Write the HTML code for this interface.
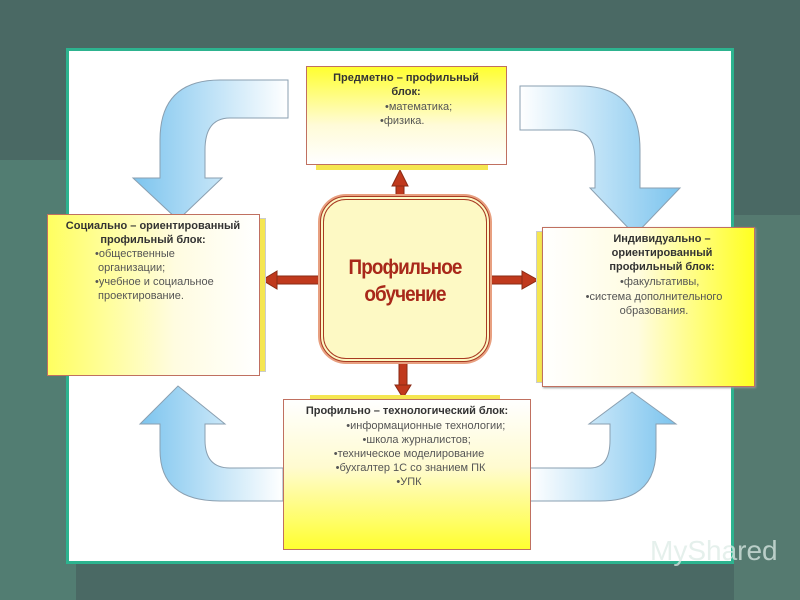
<!DOCTYPE html>
<html><head><meta charset="utf-8"><style>
body{margin:0;width:800px;height:600px;overflow:hidden;background:#4b6b66;font-family:"Liberation Sans",sans-serif;}
.abs{position:absolute;}
.t{font-size:11px;color:#555;line-height:14px;}
b{color:#333}
</style></head><body>
<div class="abs" style="left:0;top:0;width:800px;height:600px;background:#4a6964"></div>
<div class="abs" style="left:0;top:160px;width:76px;height:440px;background:#527d72"></div>
<div class="abs" style="left:734px;top:215px;width:66px;height:385px;background:#557a70"></div>
<div class="abs" style="left:66px;top:48px;width:662px;height:510px;background:#fff;border:3px solid #2db38f"></div>
<svg class="abs" style="left:0;top:0" width="800" height="600">
<defs>
<linearGradient id="bh" x1="0" x2="1" y1="0" y2="0"><stop offset="0" stop-color="#7cc4ee"/><stop offset="1" stop-color="#fff"/></linearGradient>
<linearGradient id="bhr" x1="1" x2="0" y1="0" y2="0"><stop offset="0" stop-color="#7cc4ee"/><stop offset="1" stop-color="#fff"/></linearGradient>
</defs>
<path d="M288,80 L288,118 L230,118 Q205,118 205,150 L205,178 L222,178 L178,220 L133,178 L160,178 L160,140 Q160,80 220,80 Z" fill="url(#bh)" stroke="#8a9fb0" stroke-width="1"/>
<path d="M520,86 L520,130 L570,130 Q595,130 595,160 L595,188 L590,188 L635,235 L680,188 L640,188 L640,150 Q640,86 580,86 Z" fill="url(#bhr)" stroke="#8a9fb0" stroke-width="1"/>
<path d="M283,468 L230,468 Q205,468 205,440 L205,424 L225,424 L178,386 L140,424 L160,424 L160,450 Q160,501 220,501 L283,501 Z" fill="url(#bh)" stroke="#8a9fb0" stroke-width="1"/>
<path d="M530,468 L590,468 Q610,468 610,440 L610,424 L589,424 L632,392 L676,424 L656,424 L656,450 Q656,501 600,501 L530,501 Z" fill="url(#bhr)" stroke="#8a9fb0" stroke-width="1"/>
<g fill="#c0391d" stroke="#8a2a14" stroke-width="1">
<rect x="396" y="185" width="8" height="22"/><path d="M392,186 L400,170 L408,186 Z"/>
<rect x="399" y="360" width="8" height="26"/><path d="M395,385 L403,398 L411,385 Z"/>
<rect x="275" y="276" width="46" height="8"/><path d="M277,271 L262,280 L277,289 Z"/>
<rect x="489" y="276" width="35" height="8"/><path d="M522,271 L538,280 L522,289 Z"/>
</g>
</svg>
<div class="abs" style="left:320px;top:196px;width:162px;height:158px;border:4px double #a83a22;border-radius:26px;background:#fdf9c4;box-shadow:0 0 0 2px #e8a080"></div>
<div class="abs" style="left:320px;top:254px;width:170px;text-align:center;font-size:21px;font-weight:bold;color:#a8281a;line-height:27px;letter-spacing:-1px;transform:scaleX(0.9)">Профильное<br>обучение</div>
<div class="abs" style="left:316px;top:160px;width:172px;height:10px;background:#f5e650"></div>
<div class="abs" style="left:306px;top:66px;width:199px;height:97px;border:1px solid #c07060;background:linear-gradient(#ffff30,#fffbd8 60%,#fff)"></div>
<div class="abs t" style="left:306px;top:71px;width:200px;text-align:center"><b>Предметно – профильный<br>блок:</b></div>
<div class="abs t" style="left:385px;top:100px">•математика;</div>
<div class="abs t" style="left:380px;top:114px">•физика.</div>
<div class="abs" style="left:254px;top:218px;width:10px;height:152px;background:#f5e650;border:1px solid #ccc"></div>
<div class="abs" style="left:47px;top:214px;width:211px;height:160px;border:1px solid #c07060;background:linear-gradient(90deg,#ffff60,#fffce0 60%,#fff)"></div>
<div class="abs t" style="left:47px;top:219px;width:212px;text-align:center"><b>Социально – ориентированный<br>профильный блок:</b></div>
<div class="abs t" style="left:95px;top:247px">•общественные<br>&nbsp;организации;<br>•учебное и социальное<br>&nbsp;проектирование.</div>
<div class="abs" style="left:536px;top:231px;width:10px;height:150px;background:#f5e650;border:1px solid #ccc"></div>
<div class="abs" style="left:542px;top:227px;width:211px;height:158px;border:1px solid #c07060;background:linear-gradient(90deg,#fff,#fffce0 45%,#ffff20);box-shadow:1px 1px 2px #999"></div>
<div class="abs t" style="left:542px;top:232px;width:240px;text-align:center"><b>Индивидуально –<br>ориентированный<br>профильный блок:</b></div>
<div class="abs t" style="left:620px;top:275px">•факультативы,</div>
<div class="abs t" style="left:569px;top:290px;width:170px;text-align:center">•система дополнительного<br>образования.</div>
<div class="abs" style="left:310px;top:395px;width:190px;height:6px;background:#f5e650"></div>
<div class="abs" style="left:283px;top:399px;width:246px;height:149px;border:1px solid #c07060;background:linear-gradient(#fff,#fffbd0 45%,#ffff30)"></div>
<div class="abs t" style="left:283px;top:404px;width:248px;text-align:center"><b>Профильно – технологический блок:</b></div>
<div class="abs t" style="left:283px;top:419px;width:252px;text-align:center">&nbsp;&nbsp;&nbsp;&nbsp;&nbsp;&nbsp;&nbsp;&nbsp;&nbsp;&nbsp;&nbsp;•информационные технологии;<br>&nbsp;&nbsp;&nbsp;&nbsp;&nbsp;•школа журналистов;<br>•техническое моделирование<br>&nbsp;•бухгалтер 1С со знанием ПК<br>•УПК</div>
<div class="abs" style="left:650px;top:535px;font-size:28px;color:rgba(220,235,230,0.75)">MyShared</div>
</body></html>
